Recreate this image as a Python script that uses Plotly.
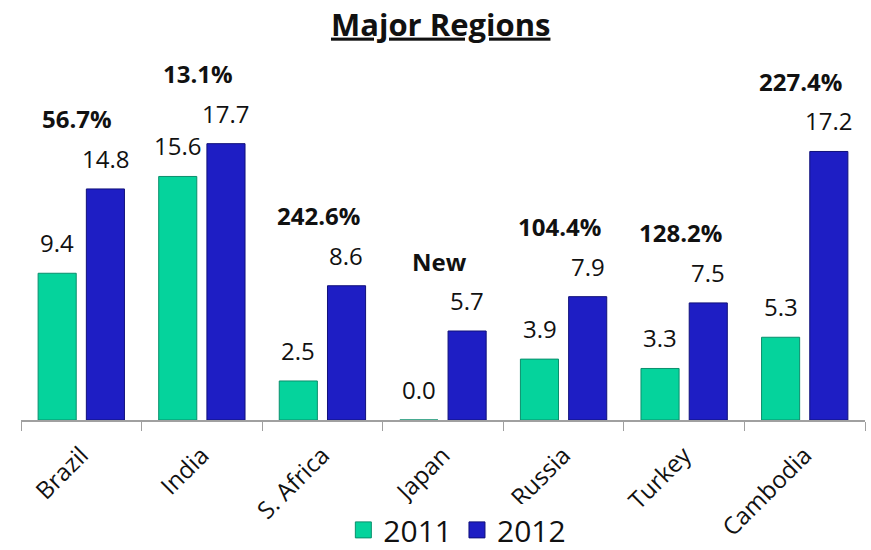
import plotly.graph_objects as go

categories = ["Brazil", "India", "S. Africa", "Japan", "Russia", "Turkey", "Cambodia"]
values_2011 = [9.4, 15.6, 2.5, 0.0, 3.9, 3.3, 5.3]
values_2012 = [14.8, 17.7, 8.6, 5.7, 7.9, 7.5, 17.2]
growth_labels = ["56.7%", "13.1%", "242.6%", "New", "104.4%", "128.2%", "227.4%"]
series_names = ["2011", "2012"]
colors = ["#05D39C", "#1E1EC4"]
edge_colors = ["#0A8F6C", "#10107A"]

FONT = "Open Sans, Noto Sans, sans-serif"

fig = go.Figure()
for name, vals, col, edge in zip(series_names, [values_2011, values_2012], colors, edge_colors):
    fig.add_trace(go.Bar(
        x=categories, y=vals, name=name, showlegend=False,
        marker=dict(color=col, line=dict(color=edge, width=1)),
    ))
# legend proxies with larger square markers
for name, col, edge in zip(series_names, colors, edge_colors):
    fig.add_trace(go.Scatter(
        x=[None], y=[None], mode="markers", name=name,
        marker=dict(symbol="square", size=20, color=col, line=dict(color=edge, width=1)),
    ))

annotations = []
for c, v1, v2, g in zip(categories, values_2011, values_2012, growth_labels):
    annotations.append(dict(x=c, y=v1, xref="x", yref="y", text=f"{v1:.1f}",
                            showarrow=False, yanchor="bottom", xshift=-24, yshift=12,
                            font=dict(size=24, color="#111111", family=FONT)))
    annotations.append(dict(x=c, y=v2, xref="x", yref="y", text=f"{v2:.1f}",
                            showarrow=False, yanchor="bottom", xshift=24, yshift=12,
                            font=dict(size=24, color="#111111", family=FONT)))
    annotations.append(dict(x=c, y=max(v1, v2), xref="x", yref="y", text=f"<b>{g}</b>",
                            showarrow=False, yanchor="middle", xshift=-4, yshift=70,
                            font=dict(size=24, color="#111111", family=FONT)))

fig.update_layout(
    width=871, height=550,
    margin=dict(l=21, r=6, t=50, b=130, autoexpand=False),
    paper_bgcolor="white", plot_bgcolor="white",
    barmode="group", bargap=0.2, bargroupgap=0.21,
    title=dict(text="<b><u>Major Regions</u></b>", x=0.506, xanchor="center",
               y=0.955, yanchor="middle",
               font=dict(size=31, color="#111111", family=FONT)),
    font=dict(family=FONT, color="#111111"),
    xaxis=dict(showline=True, linecolor="#A0A0A0", linewidth=1.5, automargin=False,
               ticks="outside", tickson="boundaries", ticklen=9, tickcolor="#A0A0A0",
               ticklabelstandoff=10,
               tickangle=-45, tickfont=dict(size=24, color="#111111", family=FONT)),
    yaxis=dict(visible=False, range=[0, 23.7], automargin=False),
    legend=dict(orientation="h", x=0.517, xanchor="center", y=-0.297, yanchor="middle",
                itemsizing="trace", tracegroupgap=0,
                font=dict(size=30, color="#111111", family=FONT)),
    annotations=annotations,
    showlegend=True,
)

fig.write_html("out.html", config={"displayModeBar": False},
               post_script="document.body.style.margin='0';")
